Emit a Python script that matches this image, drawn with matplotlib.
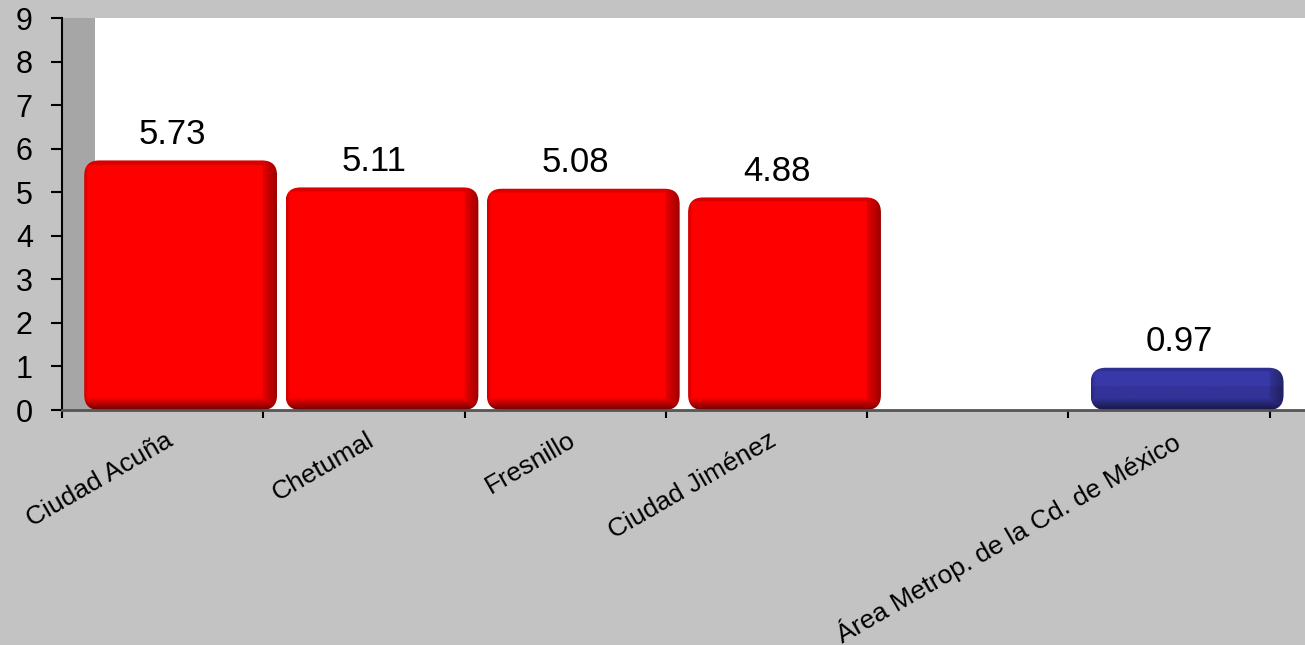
import numpy as np
import matplotlib.pyplot as plt
from matplotlib.patches import FancyBboxPatch

plt.rcParams['font.family'] = ['Liberation Sans', 'DejaVu Sans']

categories = ['Ciudad Acuña', 'Chetumal', 'Fresnillo', 'Ciudad Jiménez', '',
              'Área Metrop. de la Cd. de México']
values = [5.73, 5.11, 5.08, 4.88, None, 0.97]
bar_colors = ['#ff0000', '#ff0000', '#ff0000', '#ff0000', None, '#333399']
yticks = list(range(0, 10))

BG = '#c3c3c3'
WALL = '#a6a6a6'

fig = plt.figure(figsize=(13.05, 6.45), dpi=100, facecolor=BG)
ax = fig.add_axes([62 / 1305, 1 - 410 / 645, 1 - 62 / 1305, (410 - 18) / 645])
ax.set_facecolor('white')
ax.set_xlim(-0.5, 5.675)
ax.set_ylim(0, 9)

# left wall of the 3d box
ax.axvspan(-0.5, -0.336, color=WALL, zorder=0.5, lw=0)

# pixel scale to get round corners in data units
px_x = 6.175 / (1305 - 62)
px_y = 9 / (410 - 18)
aspect = px_y / px_x


def shade(hexcol, w, h):
    base = np.array(plt.matplotlib.colors.to_rgb(hexcol))
    nx, ny = 300, 200
    xp = np.linspace(0, w / px_x, nx)      # pixels from left
    yp = np.linspace(0, h / px_y, ny)      # pixels from bottom
    wp, hp = w / px_x, h / px_y
    fx = np.ones(nx)
    right = wp - xp
    fx = np.where(right < 14, 0.62 + 0.02 * right, fx)
    fx = np.where((right >= 14) & (right < 20), 1.0, fx)
    fx = np.where(xp < 4, 0.8 + 0.05 * xp, fx)
    fy = np.ones(ny)
    fy = np.where(yp < 12, 0.45 + 0.045 * yp, fy)
    fy = np.where(hp - yp < 4, 0.85, fy)
    img = base[None, None, :] * np.minimum(fy[:, None], fx[None, :])[:, :, None]
    if hexcol != '#ff0000':
        top = (yp > hp * 0.55)
        img[top] = np.clip(img[top] * 1.1, 0, 1)
    return np.clip(img, 0, 1)


offset = 18 * px_x
width = 0.958
r = 15 * px_x
for i, (v, c) in enumerate(zip(values, bar_colors)):
    if v is None:
        continue
    x0 = i + offset - width / 2
    patch = FancyBboxPatch((x0, 0), width, v,
                           boxstyle=f'round,pad=0,rounding_size={r}',
                           mutation_aspect=aspect, fc='none', ec='none',
                           zorder=2)
    ax.add_patch(patch)
    im = ax.imshow(shade(c, width, v), extent=(x0, x0 + width, 0, v),
                   origin='lower', aspect='auto', zorder=2,
                   interpolation='bilinear')
    im.set_clip_path(patch)
    ax.annotate(f'{v:.2f}', (i + 10 * px_x, v), xytext=(0, 7),
                textcoords='offset points', ha='center', va='bottom',
                fontsize=25)

ax.set_xticks(np.arange(-0.5, 6.0, 1.0))
ax.set_xticklabels([])
ax.set_xticks(np.arange(0, 6) + 2 * px_x, minor=True)
ax.set_xticklabels(categories, minor=True, rotation=30, ha='right',
                   rotation_mode='anchor', fontsize=19)
ax.tick_params(axis='x', which='minor', length=0, pad=13)
ax.tick_params(axis='x', which='major', length=6, width=1.5, direction='out',
               color='black')
ax.set_yticks(yticks)
ax.tick_params(axis='y', length=8, width=1.5, labelsize=22, pad=13,
               color='black')

for s in ['top', 'right']:
    ax.spines[s].set_visible(False)
ax.spines['left'].set_linewidth(1.5)
ax.spines['bottom'].set_color('#555555')
ax.spines['bottom'].set_linewidth(2)

fig.savefig('out.png', dpi=100, facecolor=BG)
